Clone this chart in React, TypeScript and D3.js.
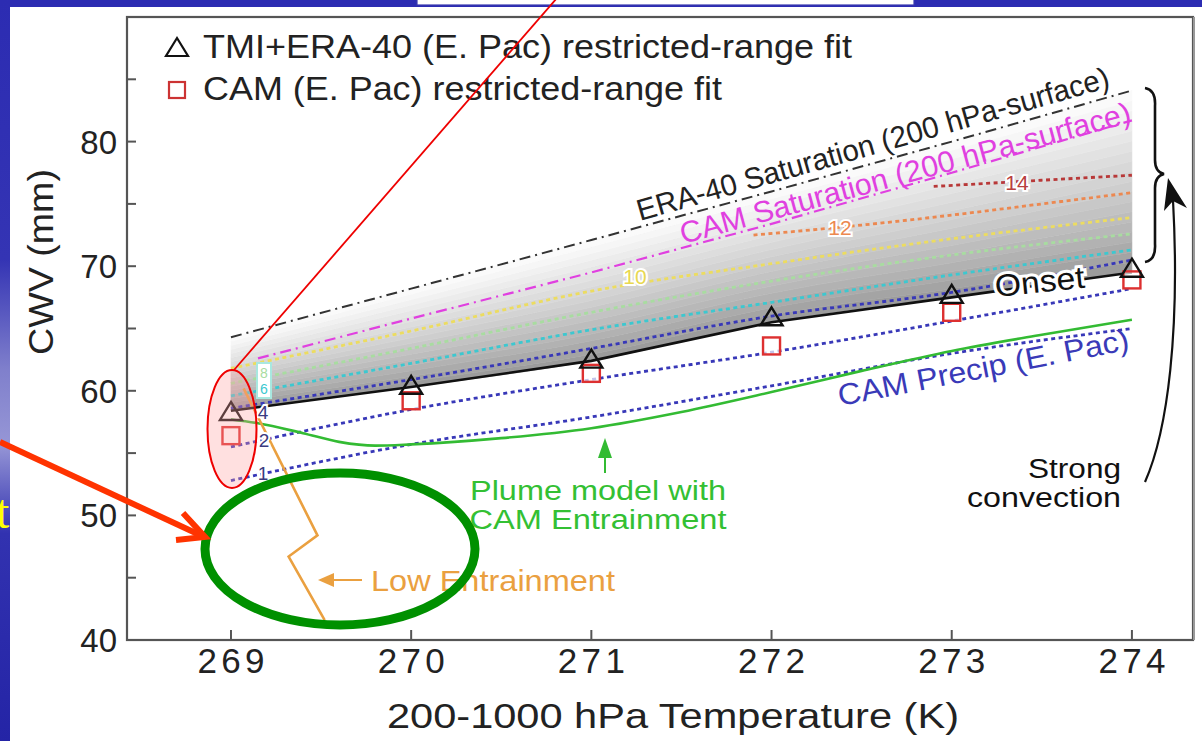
import React from 'react';
import * as d3 from 'd3';

// x values (K) shared by most series
const temps = [269, 270, 271, 272, 273, 274];
const xTickLabels = ['269', '270', '271', '272', '273', '274'];
const yTicks = [40, 50, 60, 70, 80];
const yMinorTicks = [45, 55, 65, 75, 85];

// restricted-range fits
const tmiEraFit = [58.3, 60.4, 62.5, 65.9, 67.7, 69.8];
const camFit = [56.4, 59.2, 61.4, 63.6, 66.3, 68.9];
const onset = [58.4, 60.3, 62.4, 65.5, 67.5, 69.5];

// saturation curves
const eraSat = [64.3, 68.2, 72.1, 76.0, 80.0, 84.1];
const camSatT = [269.15, 270, 271, 272, 273, 274];
const camSat = [62.6, 65.8, 69.5, 73.4, 77.5, 81.7];

// CAM precip contours (E. Pac)
const precip1 = [52.8, 55.7, 57.9, 60.4, 63.0, 65.0];
const precip2 = [55.5, 58.5, 60.9, 63.1, 65.6, 68.2];
const precip4 = [58.6, 60.9, 63.4, 66.0, 67.9, 70.5];
const precip6 = [59.6, 62.2, 64.9, 67.1, 69.3, 71.3];
const precip8 = [60.6, 63.4, 66.3, 68.8, 70.9, 72.6];
const precip10 = [61.8, 64.8, 68.0, 70.2, 72.2, 73.9];
const precip12T = [271.9, 272.5, 273, 273.5, 274];
const precip12 = [72.5, 73.3, 74.1, 75.0, 75.9];
const precip14T = [272.9, 273.5, 274];
const precip14 = [76.4, 76.9, 77.3];

// plume model, CAM entrainment
const plumeT = [269, 269.15, 269.4, 269.6, 269.8, 270, 270.5, 271, 271.5, 272, 272.5, 273, 273.5, 274];
const plumeCwv = [57.7, 57.4, 56.6, 55.9, 55.6, 55.7, 56.2, 57.0, 58.3, 59.9, 61.6, 63.2, 64.5, 65.7];

// plume model, low entrainment
const lowEntT = [269.07, 269.48, 269.32, 269.52];
const lowEntCwv = [60.2, 48.4, 46.7, 41.6];

const FONT = "'Liberation Sans', Arial, Helvetica, sans-serif";

type P = [number, number];
const zip = (ts: number[], vs: number[]): P[] => ts.map((t, i) => [t, vs[i]]);

const App: React.FC = () => {
  const x = d3.scaleLinear().domain([268.423, 274.339]).range([127, 1193]);
  const y = d3.scaleLinear().domain([40, 90]).range([640, 17]);

  const smooth = d3.line<P>().x(d => x(d[0])).y(d => y(d[1])).curve(d3.curveMonotoneX);
  const straight = d3.line<P>().x(d => x(d[0])).y(d => y(d[1]));

  // gray shaded band between onset and saturation, built from slices
  const nBands = 18;
  const bands = d3.range(nBands).map(i => {
    const f0 = i / nBands;
    const f1 = (i + 1) / nBands;
    const area = d3.area<number>()
      .x((_, k) => x(temps[k]))
      .y0((_, k) => y(onset[k] + f0 * (eraSat[k] - onset[k])))
      .y1((_, k) => y(onset[k] + f1 * (eraSat[k] - onset[k])))
      .curve(d3.curveMonotoneX);
    const c = d3.interpolateRgb('#9c9c9c', '#ffffff')(Math.pow(f0, 0.85));
    return <path key={i} d={area(temps) || ''} fill={c} stroke={c} strokeWidth={0.6} />;
  });

  const contours = [
    { d: zip(temps, precip1), c: '#3838b8' },
    { d: zip(temps, precip2), c: '#3838b8' },
    { d: zip(temps, precip4), c: '#3838b8' },
    { d: zip(temps, precip6), c: '#3cc8d0' },
    { d: zip(temps, precip8), c: '#a8dca0' },
    { d: zip(temps, precip10), c: '#ecdc60' },
    { d: zip(precip12T, precip12), c: '#ec8850' },
    { d: zip(precip14T, precip14), c: '#b83838' },
  ];

  const tri = (cx: number, cy: number, s: number) =>
    `M${cx},${cy - s * 0.5}L${cx + s * 0.55},${cy + s * 0.4}L${cx - s * 0.55},${cy + s * 0.4}Z`;

  return (
    <svg width={1202} height={741} style={{ position: 'absolute', left: 0, top: 0, display: 'block' }}>
      <defs>
        <linearGradient id="leftStrip" x1="0" y1="0" x2="0" y2="1">
          <stop offset="0" stopColor="#2c2cb2" />
          <stop offset="0.35" stopColor="#3434b4" />
          <stop offset="0.5" stopColor="#8080cc" />
          <stop offset="0.6" stopColor="#9696d6" />
          <stop offset="0.72" stopColor="#3232b0" />
          <stop offset="1" stopColor="#2424a6" />
        </linearGradient>
      </defs>

      {/* slide background */}
      <rect x={0} y={0} width={1202} height={741} fill="#2c2cb2" />
      <rect x={0} y={0} width={11} height={741} fill="url(#leftStrip)" />
      <text x={-4} y={528} fontFamily="'Liberation Serif', 'Times New Roman', serif" fontSize={48} fill="#ffff00">t</text>
      <rect x={10} y={7} width={1192} height={734} fill="#ffffff" />
      <rect x={417} y={-2} width={497} height={7} fill="#ffffff" stroke="#3a3ab0" strokeWidth={1.2} />

      {/* shaded region */}
      {bands}

      {/* precip contours */}
      {contours.map((c, i) => (
        <path key={i} d={smooth(c.d) || ''} fill="none" stroke={c.c} strokeWidth={2.8} strokeDasharray="4 3.5" />
      ))}

      {/* saturation */}
      <path d={straight(zip(temps, eraSat)) || ''} fill="none" stroke="#333" strokeWidth={2} strokeDasharray="11 5 2 5" />
      <path d={straight(zip(camSatT, camSat)) || ''} fill="none" stroke="#e040e0" strokeWidth={2.2} strokeDasharray="11 5 2 5" />

      {/* plume models */}
      <path d={smooth(zip(plumeT, plumeCwv)) || ''} fill="none" stroke="#33bb33" strokeWidth={2.6} />
      <path d={straight(zip(lowEntT, lowEntCwv)) || ''} fill="none" stroke="#eaa040" strokeWidth={2.6} />

      {/* onset */}
      <path d={straight(zip(temps, onset)) || ''} fill="none" stroke="#111" strokeWidth={2.6} />

      {/* markers */}
      {temps.map((t, i) => (
        <rect key={'s' + i} x={x(t) - 8.5} y={y(camFit[i]) - 8.5} width={17} height={17}
          fill="rgba(255,255,255,0.7)" stroke="#dd3030" strokeWidth={2.4} />
      ))}
      {temps.map((t, i) => (
        <path key={'t' + i} d={tri(x(t), y(tmiEraFit[i]), 20)} fill="none" stroke="#111" strokeWidth={2.4} />
      ))}

      {/* contour labels */}
      <g fontFamily={FONT} fontSize={19} textAnchor="middle" paintOrder="stroke" stroke="#fff" strokeWidth={4}>
        <text x={263} y={419} fill="#3a3a80">4</text>
        <text x={264} y={447} fill="#3a3a80">2</text>
        <text x={263} y={480} fill="#3a3a80">1</text>
        <text x={635} y={284} fill="#e8d850" fontSize={21}>10</text>
        <text x={840} y={235} fill="#ec8850" fontSize={21}>12</text>
        <text x={1017} y={190} fill="#b84040" fontSize={21}>14</text>
      </g>
      <rect x={257} y={363} width={14} height={35} fill="#fff" stroke="#a8e8e0" strokeWidth={2} />
      <text x={264} y={378} fontFamily={FONT} fontSize={14} textAnchor="middle" fill="#a8dca0">8</text>
      <text x={264} y={394} fontFamily={FONT} fontSize={14} textAnchor="middle" fill="#3cc8d0">6</text>

      {/* frame and axes */}
      <rect x={127} y={17} width={1066} height={623} fill="none" stroke="#555" strokeWidth={2.2} />
      <line x1={1194} y1={17} x2={1194} y2={640} stroke="#999" strokeWidth={2} />
      {yTicks.map(v => (
        <g key={'y' + v}>
          <line x1={127} x2={136} y1={y(v)} y2={y(v)} stroke="#555" strokeWidth={2} />
          <text x={117} y={y(v) + 12} fontFamily={FONT} fontSize={33} textAnchor="end" fill="#222">{v}</text>
        </g>
      ))}
      {yMinorTicks.map(v => (
        <line key={'ym' + v} x1={127} x2={136} y1={y(v)} y2={y(v)} stroke="#555" strokeWidth={2} />
      ))}
      {temps.map((t, i) => (
        <g key={'x' + t}>
          <line x1={x(t)} x2={x(t)} y1={640} y2={630} stroke="#555" strokeWidth={2} />
          <text x={x(t)} y={673} fontFamily={FONT} fontSize={35} textAnchor="middle" fill="#222"
            textLength={67} lengthAdjust="spacing">{xTickLabels[i]}</text>
        </g>
      ))}
      <text x={673} y={728} fontFamily={FONT} fontSize={35} textAnchor="middle" fill="#222"
        textLength={572} lengthAdjust="spacingAndGlyphs">200-1000 hPa Temperature (K)</text>
      <text transform="translate(53,262) rotate(-90)" fontFamily={FONT} fontSize={35} textAnchor="middle" fill="#222"
        textLength={186} lengthAdjust="spacingAndGlyphs">CWV (mm)</text>

      {/* legend */}
      <path d={tri(177, 48, 20)} fill="none" stroke="#111" strokeWidth={2.2} />
      <text x={203} y={58} fontFamily={FONT} fontSize={34} fill="#222" textLength={649} lengthAdjust="spacingAndGlyphs">
        TMI+ERA-40 (E. Pac) restricted-range fit
      </text>
      <rect x={169} y={82} width={16} height={16} fill="#fff" stroke="#cc3333" strokeWidth={2.2} />
      <text x={203} y={100} fontFamily={FONT} fontSize={34} fill="#222" textLength={519} lengthAdjust="spacingAndGlyphs">
        CAM (E. Pac) restricted-range fit
      </text>

      {/* curve labels */}
      <text transform="translate(640,221) rotate(-15.9)" fontFamily={FONT} fontSize={30} fill="#222"
        textLength={490} lengthAdjust="spacingAndGlyphs">ERA-40 Saturation (200 hPa-surface)</text>
      <text transform="translate(683,244) rotate(-15.2)" fontFamily={FONT} fontSize={30} fill="#e040e0"
        textLength={466} lengthAdjust="spacingAndGlyphs">CAM Saturation (200 hPa-surface)</text>
      <text transform="translate(840,406) rotate(-11)" fontFamily={FONT} fontSize={30} fill="#3a3ab8"
        textLength={296} lengthAdjust="spacingAndGlyphs">CAM Precip (E. Pac)</text>
      <text transform="translate(996,297) rotate(-6)" fontFamily={FONT} fontSize={31} fill="#111"
        paintOrder="stroke" stroke="#fff" strokeWidth={6} textLength={90} lengthAdjust="spacingAndGlyphs">Onset</text>

      <g fontFamily={FONT} fontSize={27} fill="#33c033" textAnchor="middle">
        <text x={598} y={500} textLength={256} lengthAdjust="spacingAndGlyphs">Plume model with</text>
        <text x={598} y={529} textLength={257} lengthAdjust="spacingAndGlyphs">CAM Entrainment</text>
      </g>
      <line x1={605} y1={473} x2={605} y2={455} stroke="#33bb33" strokeWidth={2} />
      <path d="M605,438L612,458L598,458Z" fill="#33bb33" />

      <text x={371} y={591} fontFamily={FONT} fontSize={29} fill="#eaa040" textLength={244} lengthAdjust="spacingAndGlyphs">Low Entrainment</text>
      <line x1={362} y1={580} x2={332} y2={580} stroke="#eaa040" strokeWidth={2} />
      <path d="M318,580L334,573L334,587Z" fill="#eaa040" />

      <g fontFamily={FONT} fontSize={27} fill="#111" textAnchor="end">
        <text x={1121} y={478} textLength={93} lengthAdjust="spacingAndGlyphs">Strong</text>
        <text x={1121} y={507} textLength={154} lengthAdjust="spacingAndGlyphs">convection</text>
      </g>
      <path d="M1145,482 C1168,430 1180,330 1173,200" fill="none" stroke="#111" strokeWidth={2.2} />
      <path d="M1168,178L1187,208L1173,201L1164,211Z" fill="#111" />
      <path d="M1145,88 Q1156,90 1155,106 L1155,160 Q1155,172 1164,174 Q1155,176 1155,188 L1155,244 Q1156,260 1145,262"
        fill="none" stroke="#111" strokeWidth={2.6} />

      {/* annotations */}
      <line x1={234} y1={370} x2={557} y2={-2} stroke="#ee0000" strokeWidth={1.8} />
      <ellipse cx={232} cy={429} rx={24.5} ry={59} fill="rgba(255,160,160,0.32)" stroke="#ee0000" strokeWidth={2} />
      <ellipse cx={340} cy={549} rx={135} ry={76} fill="none" stroke="#009000" strokeWidth={9} />
      <line x1={0} y1={442} x2={200} y2={535} stroke="#ff3300" strokeWidth={6} />
      <polyline points="183,513 205,537 176,540" fill="none" stroke="#ff3300" strokeWidth={6} strokeLinejoin="miter" />
    </svg>
  );
};

export default App;
